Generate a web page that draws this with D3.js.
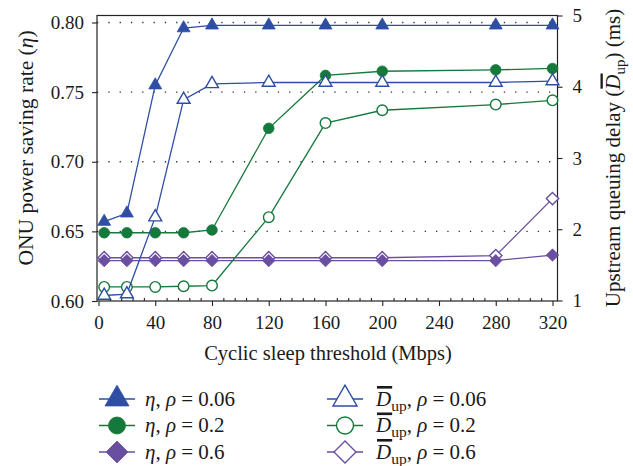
<!DOCTYPE html>
<html>
<head>
<meta charset="utf-8">
<script src="https://cdn.jsdelivr.net/npm/d3@7"></script>
<style>
  body { margin: 0; background: #fff; }
  svg { display: block; }
  text { font-family: "Liberation Serif", "Times New Roman", serif; fill: #1a1a1a; }
</style>
</head>
<body>
<svg id="chart" width="633" height="466"></svg>
<script>
// threshold values (Mbps)
const xVals = [4, 20, 40, 60, 80, 120, 160, 200, 280, 320];

// power saving rate (left axis)
const etaRho006 = [0.657, 0.663, 0.755, 0.796, 0.798, 0.798, 0.798, 0.798, 0.798, 0.798];
const etaRho02  = [0.649, 0.649, 0.649, 0.649, 0.651, 0.724, 0.762, 0.765, 0.766, 0.767];
const etaRho06  = [0.629, 0.629, 0.629, 0.629, 0.629, 0.629, 0.629, 0.629, 0.629, 0.633];

// upstream queuing delay in ms (right axis)
const dRho006 = [1.07, 1.09, 2.17, 3.82, 4.04, 4.06, 4.06, 4.06, 4.06, 4.08];
const dRho02  = [1.19, 1.19, 1.19, 1.20, 1.21, 2.17, 3.49, 3.67, 3.75, 3.81];
const dRho06  = [1.60, 1.60, 1.60, 1.60, 1.60, 1.60, 1.60, 1.60, 1.63, 2.43];

const xTicks = [0, 40, 80, 120, 160, 200, 240, 280, 320];
const leftTicks = [0.60, 0.65, 0.70, 0.75, 0.80];
const rightTicks = [1, 2, 3, 4, 5];
const rhoLabels = ["0.06", "0.2", "0.6"];

const blue = "#2d4ea3", green = "#15793b", purple = "#6a4ea0";

const series = [
  { values: dRho06,   axis: "right", color: purple, shape: "diamond",  filled: false },
  { values: etaRho06, axis: "left",  color: purple, shape: "diamond",  filled: true },
  { values: dRho02,   axis: "right", color: green,  shape: "circle",   filled: false },
  { values: etaRho02, axis: "left",  color: green,  shape: "circle",   filled: true },
  { values: dRho006,  axis: "right", color: blue,   shape: "triangle", filled: false },
  { values: etaRho006,axis: "left",  color: blue,   shape: "triangle", filled: true }
];

const svg = d3.select("#chart");
const plotL = 97, plotR = 557.5, plotT = 15.5, plotB = 301;

const x = d3.scaleLinear().domain([0, 320]).range([98.5, 552.5]);
const yL = d3.scaleLinear().domain([0.6, 0.8]).range([301, 22.5]);
const yR = d3.scaleLinear().domain([1, 5]).range([300.5, 15.5]);

function markerPath(shape, big) {
  if (shape === "triangle") return d3.symbol(d3.symbolTriangle, big ? 250 : 72)();
  if (shape === "circle") return d3.symbol(d3.symbolCircle, big ? 227 : 88)();
  const w = big ? 11 : 6.2;
  return `M0,${-w}L${w},0L0,${w}L${-w},0Z`;
}

// dotted grid
svg.append("g").selectAll("line")
  .data(leftTicks.filter(d => d > 0.6))
  .enter().append("line")
  .attr("x1", plotL).attr("x2", plotR)
  .attr("y1", d => yL(d)).attr("y2", d => yL(d))
  .attr("stroke", "#333").attr("stroke-width", 1.3)
  .attr("stroke-dasharray", "1.3,10");

// axes
const gL = svg.append("g").attr("transform", `translate(${plotL},0)`)
  .call(d3.axisLeft(yL).tickValues(leftTicks).tickSize(5).tickPadding(8).tickFormat(d3.format(".2f")));
const gR = svg.append("g").attr("transform", `translate(${plotR},0)`)
  .call(d3.axisRight(yR).tickValues(rightTicks).tickSize(5).tickPadding(10).tickFormat(d3.format("d")));
const gB = svg.append("g").attr("transform", `translate(0,${plotB})`)
  .call(d3.axisBottom(x).tickValues(xTicks).tickSize(5).tickPadding(10).tickFormat(d3.format("d")));
const gM = svg.append("g").attr("transform", `translate(0,${plotB})`)
  .call(d3.axisBottom(x).tickValues(d3.range(0, 321, 8).filter(d => d % 40 !== 0)).tickSize(-3).tickFormat(""));

[gL, gR, gB, gM].forEach(g => {
  g.select(".domain").remove();
  g.attr("font-size", 19);
  g.selectAll("line").attr("stroke", "#222").attr("stroke-width", 1.1);
});

svg.append("rect")
  .attr("x", plotL).attr("y", plotT)
  .attr("width", plotR - plotL).attr("height", plotB - plotT)
  .attr("fill", "none").attr("stroke", "#222").attr("stroke-width", 1.2);

// series
const lineL = d3.line().x((d, i) => x(xVals[i])).y(d => yL(d));
const lineR = d3.line().x((d, i) => x(xVals[i])).y(d => yR(d));

series.forEach(s => {
  const yS = s.axis === "left" ? yL : yR;
  svg.append("path")
    .attr("d", (s.axis === "left" ? lineL : lineR)(s.values))
    .attr("fill", "none").attr("stroke", s.color).attr("stroke-width", 1.3);
  svg.append("g").selectAll("path")
    .data(s.values)
    .enter().append("path")
    .attr("transform", (d, i) => `translate(${x(xVals[i])},${yS(d)})`)
    .attr("d", markerPath(s.shape, false))
    .attr("fill", s.filled ? s.color : "#fff")
    .attr("stroke", s.color).attr("stroke-width", s.filled ? 0.8 : 1.4);
});

// axis titles
svg.append("text")
  .attr("x", 328).attr("y", 360)
  .attr("text-anchor", "middle").attr("font-size", 20.5)
  .text("Cyclic sleep threshold (Mbps)");

const tl = svg.append("g").attr("transform", "translate(33,148) rotate(-90)")
  .append("text").attr("text-anchor", "middle").attr("font-size", 21.5);
tl.append("tspan").text("ONU power saving rate (");
tl.append("tspan").attr("font-style", "italic").text("η");
tl.append("tspan").text(")");

const trg = svg.append("g").attr("transform", "translate(620,158) rotate(-90)");
const tr = trg.append("text").attr("text-anchor", "middle").attr("font-size", 21);
const pre = "Upstream queuing delay (";
tr.append("tspan").text(pre);
tr.append("tspan").attr("font-style", "italic").text("D");
tr.append("tspan").attr("font-size", 15).attr("dy", 5).text("up");
tr.append("tspan").attr("dy", -5).text(") (ms)");

function overline(g, textSel, index, thick) {
  const b = textSel.node().getExtentOfChar(index);
  g.append("rect")
    .attr("x", b.x + 1).attr("y", b.y - 0.5)
    .attr("width", b.width).attr("height", thick)
    .attr("fill", "#1a1a1a");
}
overline(trg, tr, pre.length, 2.3);

// legend
const legendItems = [
  { kind: "eta", rho: rhoLabels[0], color: blue,   shape: "triangle", filled: true,  col: 0, row: 0 },
  { kind: "eta", rho: rhoLabels[1], color: green,  shape: "circle",   filled: true,  col: 0, row: 1 },
  { kind: "eta", rho: rhoLabels[2], color: purple, shape: "diamond",  filled: true,  col: 0, row: 2 },
  { kind: "d",   rho: rhoLabels[0], color: blue,   shape: "triangle", filled: false, col: 1, row: 0 },
  { kind: "d",   rho: rhoLabels[1], color: green,  shape: "circle",   filled: false, col: 1, row: 1 },
  { kind: "d",   rho: rhoLabels[2], color: purple, shape: "diamond",  filled: false, col: 1, row: 2 }
];
const colX = [117, 345], textX = [145, 376], rowY = [399, 425.5, 452];

legendItems.forEach(it => {
  const g = svg.append("g").attr("transform", `translate(0,${rowY[it.row]})`);
  const cx = colX[it.col];
  g.append("line")
    .attr("x1", cx - 18).attr("x2", cx + 18)
    .attr("stroke", it.color).attr("stroke-width", 1.3);
  g.append("path")
    .attr("transform", `translate(${cx},0)`)
    .attr("d", markerPath(it.shape, true))
    .attr("fill", it.filled ? it.color : "#fff")
    .attr("stroke", it.color).attr("stroke-width", it.filled ? 0.8 : 1.4);
  const t = g.append("text").attr("x", textX[it.col]).attr("y", 6.5).attr("font-size", 21);
  if (it.kind === "eta") {
    t.append("tspan").attr("font-style", "italic").text("η");
    t.append("tspan").text(", ");
  } else {
    t.append("tspan").attr("font-style", "italic").text("D");
    t.append("tspan").attr("font-size", 15.5).attr("dy", 5).text("up");
    t.append("tspan").attr("dy", -5).text(", ");
  }
  t.append("tspan").attr("font-style", "italic").text("ρ");
  t.append("tspan").text(" = " + it.rho);
  if (it.kind === "d") overline(g, t, 0, 2.6);
});
</script>
</body>
</html>
